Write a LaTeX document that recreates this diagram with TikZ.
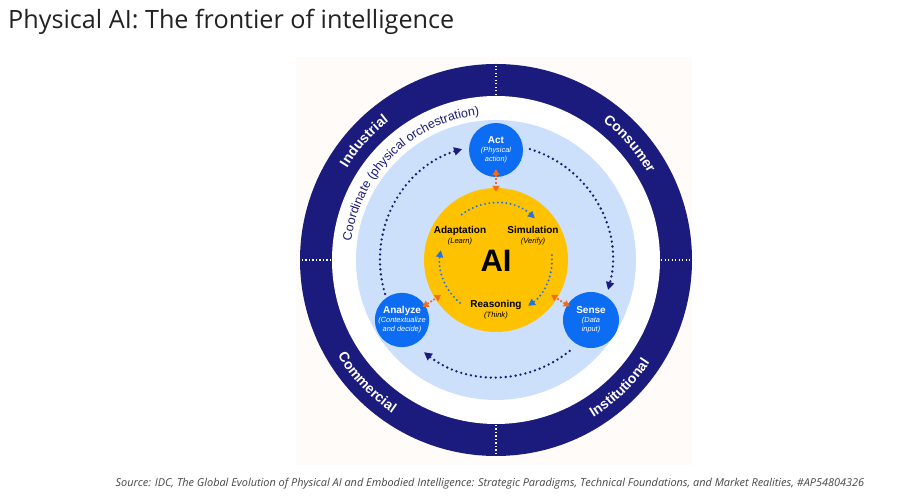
\documentclass[tikz,border=0pt]{standalone}
\usepackage{fontspec}
\setmainfont{Liberation Sans}
\newfontfamily\opensans{Open Sans}
\usetikzlibrary{decorations.text,arrows.meta}
\definecolor{navy}{RGB}{27,27,125}
\definecolor{lightblue}{RGB}{204,224,252}
\definecolor{nodeblue}{RGB}{12,108,242}
\definecolor{aiyellow}{RGB}{255,194,0}
\definecolor{arrorange}{RGB}{242,108,32}
\definecolor{panel}{RGB}{255,251,248}
\definecolor{dotblue}{RGB}{32,116,230}
\definecolor{titlegray}{RGB}{34,34,34}
\definecolor{srcgray}{RGB}{70,70,70}
\newcommand\subtxt{\mdseries\itshape\fontsize{7.4}{8}\selectfont}
\newcommand\coresub{\mdseries\itshape\fontsize{7.6}{8.5}\selectfont}
\begin{document}
\begin{tikzpicture}[x=1pt,y=1pt,
  stagenode/.style={circle,fill=nodeblue,minimum size=54pt,inner sep=0pt,text=white,align=center,font=\bfseries\fontsize{10}{11}\selectfont},
  corelabel/.style={align=center,font=\bfseries\fontsize{10}{11}\selectfont,text=black,inner sep=0pt},
  navydots/.style={navy,line width=2.6pt,line cap=round,dash pattern=on 0pt off 5pt,-{Triangle[length=8pt,width=8pt]}},
  bluedots/.style={dotblue,line width=2.2pt,line cap=round,dash pattern=on 0pt off 4.3pt,-{Triangle[length=7pt,width=7pt]}},
  orangedbl/.style={arrorange,line width=1.8pt,dash pattern=on 1.8pt off 1.8pt,{Triangle[length=6pt,width=7pt]}-{Triangle[length=6pt,width=7pt]}},
  ringtxt/.style={decorate,decoration={text along path,text color=white,text align=center,text={|\bfseries\fontsize{14}{16}\selectfont|#1}}}
]
\useasboundingbox (0,0) rectangle (897,500);
\fill[white] (0,0) rectangle (897,500);
\fill[panel] (296,35) rectangle (692,443);

\node[anchor=base west,font=\opensans\fontsize{25.2}{29}\selectfont,text=titlegray,inner sep=0pt] (title) at (8,471) {Physical AI: The frontier of intelligence};
\node[anchor=base,font=\opensans\itshape\fontsize{10.9}{13}\selectfont,text=srcgray,inner sep=0pt] (source) at (490,13) {Source: IDC, The Global Evolution of Physical AI and Embodied Intelligence: Strategic Paradigms, Technical Foundations, and Market Realities, \#AP54804326};

\begin{scope}[shift={(496,240)}]
  \fill[navy] (0,0) circle[radius=196];
  \fill[white] (0,0) circle[radius=164];
  \fill[lightblue] (0,0) circle[radius=140];
  \foreach \a in {0,90,180,270}
    \draw[white,line width=1.3pt,dash pattern=on 1.3pt off 2.2pt] (\a:165) -- (\a:195);

  \path[ringtxt=Industrial] (170:175) arc[start angle=170,end angle=106,radius=175];
  \path[ringtxt=Consumer] (74:175) arc[start angle=74,end angle=8,radius=175];
  \path[ringtxt=Commercial] (190:185) arc[start angle=190,end angle=257,radius=185];
  \path[ringtxt=Institutional] (283:185) arc[start angle=283,end angle=345,radius=185];

  \path[decorate,decoration={text along path,text color=navy,text align=center,text={|\fontsize{12.5}{14}\selectfont|Coordinate (physical orchestration)}}] (180:146) arc[start angle=180,end angle=89,radius=146];

  \draw[navydots] (197:116) arc[start angle=197,end angle=107,radius=116];
  \draw[navydots] (73:116) arc[start angle=73,end angle=-15,radius=116];
  \draw[navydots] (-51:117) arc[start angle=-51,end angle=-128,radius=117];

  \node[circle,fill=aiyellow,minimum size=144pt,inner sep=0pt] (core) at (0,0) {};
  \node[font=\bfseries\fontsize{31}{31}\selectfont,inner sep=0pt] (ai) at (0,-1) {AI};

  \draw[bluedots] (127:57) arc[start angle=127,end angle=47,radius=57];
  \draw[bluedots] (5:56) arc[start angle=5,end angle=-55,radius=56];
  \draw[bluedots] (-130:56) arc[start angle=-130,end angle=-190,radius=56];

  \node[corelabel] (adapt) at (-36,24) {Adaptation\\[-1pt]{\coresub (Learn)}};
  \node[corelabel] (simul) at (37,24) {Simulation\\[-1pt]{\coresub (Verify)}};
  \node[corelabel] (reason) at (0,-50) {Reasoning\\[-1pt]{\coresub (Think)}};

  \node[stagenode] (act) at (0,110) {Act\\[-2pt]{\subtxt (Physical}\\[-2pt]{\subtxt action)}};
  \node[stagenode] (analyze) at (-94,-60) {Analyze\\[-2pt]{\subtxt (Contextualize}\\[-2pt]{\subtxt and decide)}};
  \node[stagenode,minimum size=56pt] (sense) at (95,-60) {Sense\\[-2pt]{\subtxt (Data}\\[-2pt]{\subtxt input)}};

  \draw[orangedbl,shorten <=-8pt,shorten >=-4pt] (act) -- (core);
  \draw[orangedbl,shorten <=-3pt,shorten >=-7pt] (analyze) -- (core);
  \draw[orangedbl,shorten <=-3pt,shorten >=-7pt] (sense) -- (core);
\end{scope}
\end{tikzpicture}
\end{document}
